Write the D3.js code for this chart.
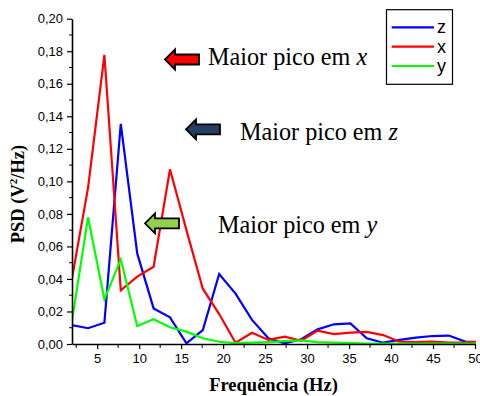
<!DOCTYPE html>
<html>
<head>
<meta charset="utf-8">
<script src="https://cdn.jsdelivr.net/npm/d3@7"></script>
<style>
  html, body { margin: 0; padding: 0; background: #fff; }
  svg { display: block; }
</style>
</head>
<body>
<svg id="chart" width="480" height="396"></svg>
<script>
// Frequency bins (Hz), spacing 1000/512
const freqs = [1.95, 3.91, 5.86, 7.81, 9.77, 11.72, 13.67, 15.63, 17.58, 19.53,
  21.48, 23.44, 25.39, 27.34, 29.30, 31.25, 33.20, 35.16, 37.11, 39.06,
  41.02, 42.97, 44.92, 46.88, 48.83, 50.78];

// PSD per axis (V²/Hz)
const psdZ = [0.0117, 0.0097, 0.0131, 0.1353, 0.0557, 0.0219, 0.0164, 0.0004, 0.0086, 0.0430,
  0.0310, 0.0148, 0.0035, 0.0004, 0.0029, 0.0090, 0.0121, 0.0127, 0.0035, 0.0008,
  0.0025, 0.0039, 0.0049, 0.0052, 0.0015, 0.0010];
const psdX = [0.0390, 0.0960, 0.1777, 0.0330, 0.0414, 0.0475, 0.1074, 0.0700, 0.0340, 0.0184,
  0.0008, 0.0069, 0.0025, 0.0045, 0.0020, 0.0082, 0.0061, 0.0070, 0.0074, 0.0055,
  0.0014, 0.0012, 0.0014, 0.0008, 0.0010, 0.0015];
const psdY = [0.0127, 0.0779, 0.0275, 0.0520, 0.0110, 0.0152, 0.0103, 0.0076, 0.0035, 0.0014,
  0.0005, 0.0008, 0.0012, 0.0018, 0.0022, 0.0012, 0.0008, 0.0005, 0.0003, 0.0003,
  0.0003, 0.0003, 0.0003, 0.0003, 0.0003, 0.0003];

const seriesNames = ["z", "x", "y"];
const seriesColors = ["#0000ff", "#ff0000", "#00ff00"];
const seriesValues = [psdZ, psdX, psdY];

const xTicks = [5, 10, 15, 20, 25, 30, 35, 40, 45, 50];
const yTicks = [0, 0.02, 0.04, 0.06, 0.08, 0.10, 0.12, 0.14, 0.16, 0.18, 0.20];

// Peak annotations: label, axis letter, arrow colour
const notes = [
  { text: "Maior pico em ", axis: "x", color: "#ff0000", ax: 165, ay: 59.5, tx: 208, ty: 65 },
  { text: "Maior pico em ", axis: "z", color: "#243f60", ax: 186, ay: 129.3, tx: 240, ty: 140 },
  { text: "Maior pico em ", axis: "y", color: "#92d050", ax: 145, ay: 223.3, tx: 218, ty: 233 }
];

const svg = d3.select("#chart");
const plotL = 72, plotR = 475, plotT = 18.7, plotB = 344;

const x = d3.scaleLinear().domain([2, 50]).range([plotL, plotR]);
const y = d3.scaleLinear().domain([0, 0.20]).range([plotB, plotT]);

svg.append("defs").append("clipPath").attr("id", "plotClip")
  .append("rect").attr("x", plotL).attr("y", 0).attr("width", plotR - plotL + 1).attr("height", plotB + 1);

// Series lines
const line = d3.line().x((d, i) => x(freqs[i])).y(d => y(d));
const plot = svg.append("g").attr("clip-path", "url(#plotClip)");
seriesValues.forEach((vals, k) => {
  plot.append("path").datum(vals)
    .attr("d", line)
    .attr("fill", "none")
    .attr("stroke", seriesColors[k])
    .attr("stroke-width", 2.2)
    .attr("stroke-linejoin", "miter");
});

const commaFmt = v => d3.format(".2f")(v).replace(".", ",");

// Y axis with minor ticks
const yAxis = svg.append("g").attr("transform", `translate(${plotL},0)`)
  .call(d3.axisLeft(y).tickValues(yTicks).tickFormat(commaFmt).tickSize(5).tickSizeOuter(0));
const yMinor = d3.range(0.01, 0.20, 0.02);
svg.append("g").selectAll("line").data(yMinor).join("line")
  .attr("x1", plotL - 3).attr("x2", plotL).attr("y1", d => y(d)).attr("y2", d => y(d))
  .attr("stroke", "#000").attr("stroke-width", 1);

// X axis with minor ticks
const xAxis = svg.append("g").attr("transform", `translate(0,${plotB})`)
  .call(d3.axisBottom(x).tickValues(xTicks).tickSize(5).tickSizeOuter(0));
const xMinor = d3.range(2.5, 50, 5);
svg.append("g").selectAll("line").data(xMinor).join("line")
  .attr("x1", d => x(d)).attr("x2", d => x(d)).attr("y1", plotB).attr("y2", plotB + 4)
  .attr("stroke", "#000").attr("stroke-width", 1);

[yAxis, xAxis].forEach(g => {
  g.select(".domain").attr("stroke", "#000").attr("stroke-width", 1.6);
  g.selectAll(".tick line").attr("stroke", "#000").attr("stroke-width", 1.2);
  g.selectAll(".tick text").attr("fill", "#000")
    .style("font-family", "'Liberation Sans', Arial, sans-serif").style("font-size", "13px");
});
yAxis.selectAll(".tick text").attr("x", -9);
xAxis.selectAll(".tick text").attr("y", 10);

// Axis titles
svg.append("text")
  .attr("x", (plotL + plotR) / 2).attr("y", 391)
  .attr("text-anchor", "middle")
  .style("font-family", "'Liberation Serif', 'Times New Roman', serif")
  .style("font-weight", "bold").style("font-size", "18.5px")
  .text("Frequência (Hz)");

const yt = svg.append("text")
  .attr("transform", "translate(24,194) rotate(-90)")
  .attr("text-anchor", "middle")
  .style("font-family", "'Liberation Serif', 'Times New Roman', serif")
  .style("font-weight", "bold").style("font-size", "18.5px");
yt.append("tspan").text("PSD (V");
yt.append("tspan").attr("dy", -7).style("font-size", "11px").text("2");
yt.append("tspan").attr("dy", 7).text("/Hz)");

// Block arrows pointing left, with annotation text
const arrowShape = [[0, 0], [10, -10], [10, -5], [34, -5], [34, 5], [10, 5], [10, 10]];
notes.forEach(n => {
  svg.append("path")
    .attr("d", d3.line()(arrowShape.map(([px, py]) => [n.ax + px, n.ay + py])) + "Z")
    .attr("fill", n.color).attr("stroke", "#000").attr("stroke-width", 1.8)
    .attr("stroke-linejoin", "miter");
  const t = svg.append("text").attr("x", n.tx).attr("y", n.ty)
    .style("font-family", "'Liberation Serif', 'Times New Roman', serif")
    .style("font-size", "24.2px").attr("fill", "#000");
  t.append("tspan").text(n.text);
  t.append("tspan").style("font-style", "italic").text(n.axis);
});

// Legend
const lg = svg.append("g");
lg.append("rect").attr("x", 386.5).attr("y", 9.7).attr("width", 66).attr("height", 74.6)
  .attr("fill", "#fff").attr("stroke", "#000").attr("stroke-width", 1.2);
seriesNames.forEach((name, k) => {
  const ly = 27.3 + k * 19.35;
  lg.append("line").attr("x1", 391.7).attr("x2", 434).attr("y1", ly).attr("y2", ly)
    .attr("stroke", seriesColors[k]).attr("stroke-width", 2.2);
  lg.append("text").attr("x", 437).attr("y", ly + 6)
    .style("font-family", "'Liberation Sans Narrow', 'Liberation Sans', Arial, sans-serif")
    .style("font-size", "18px").attr("fill", "#000").text(name);
});
</script>
</body>
</html>
